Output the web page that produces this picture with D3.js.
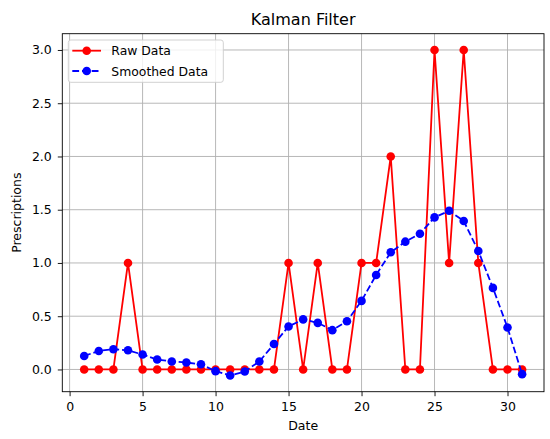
<!DOCTYPE html>
<html><head><meta charset="utf-8">
<script src="https://cdn.jsdelivr.net/npm/d3@7"></script>
<style>body{margin:0;background:#fff}svg{display:block;font-family:"DejaVu Sans",sans-serif}</style>
</head><body><svg id="c" width="550" height="439"></svg>
<script>
const dates = d3.range(1, 32);
const rawData = [0,0,0,1,0,0,0,0,0,0,0,0,0,0,1,0,1,0,0,1,1,2,0,0,3,1,3,1,0,0,0];
const smoothedData = [0.127,0.174,0.19,0.18,0.14,0.093,0.075,0.065,0.049,-0.016,-0.056,-0.019,0.075,0.239,0.404,0.47,0.4375,0.369,0.453,0.644,0.8875,1.1,1.2,1.275,1.428,1.49,1.394,1.1125,0.766,0.394,-0.044];
const xTicks = [0,5,10,15,20,25,30];
const yTicks = [0,0.5,1.0,1.5,2.0,2.5,3.0];
const seriesNames = ["Raw Data","Smoothed Data"];
const colors = ["#ff0000","#0000ff"];

const FS = 12.5;
const svg = d3.select("#c");
const L=62.3,R=544,T=33.7,B=391.7;
const x = d3.scaleLinear().domain([-0.5,32.5]).range([L,R]);
const allY = rawData.concat(smoothedData);
const ymin = d3.min(allY), ymax = d3.max(allY), m=(ymax-ymin)*0.05;
const y = d3.scaleLinear().domain([ymin-m, ymax+m]).range([B,T]);

// grid
const g = svg.append("g");
g.selectAll(".gx").data(xTicks).join("line").attr("x1",d=>x(d)).attr("x2",d=>x(d)).attr("y1",T).attr("y2",B).attr("stroke","#b0b0b0").attr("stroke-width",0.9);
g.selectAll(".gy").data(yTicks).join("line").attr("y1",d=>y(d)).attr("y2",d=>y(d)).attr("x1",L).attr("x2",R).attr("stroke","#b0b0b0").attr("stroke-width",0.9);

// axes
const xa = svg.append("g").attr("transform",`translate(0,${B})`).call(d3.axisBottom(x).tickValues(xTicks).tickFormat(d3.format("d")).tickSize(4.5).tickPadding(6));
const ya = svg.append("g").attr("transform",`translate(${L},0)`).call(d3.axisLeft(y).tickValues(yTicks).tickFormat(d3.format(".1f")).tickSize(4.5).tickPadding(6));
[xa,ya].forEach(a=>{a.select(".domain").remove();a.selectAll("text").attr("font-size",FS).attr("fill","#000").attr("font-family","DejaVu Sans");a.selectAll("line").attr("stroke","#000").attr("stroke-width",0.9);});

// lines
const line = d3.line().x((d,i)=>x(dates[i])).y(d=>y(d));
[rawData, smoothedData].forEach((s,k)=>{
  svg.append("path").attr("d",line(s)).attr("fill","none").attr("stroke",colors[k]).attr("stroke-width",1.8)
    .attr("stroke-dasharray", k===1 ? "6.8,2.9" : null);
  svg.append("g").selectAll("circle").data(s).join("circle").attr("cx",(d,i)=>x(dates[i])).attr("cy",d=>y(d)).attr("r",4.3).attr("fill",colors[k]);
});

// frame
svg.append("rect").attr("x",L).attr("y",T).attr("width",R-L).attr("height",B-T).attr("fill","none").attr("stroke","#000").attr("stroke-width",0.9);

// legend
const lg = svg.append("g");
lg.append("rect").attr("x",68.3).attr("y",40).attr("width",155).attr("height",42.3).attr("rx",2.5).attr("fill","#fff").attr("fill-opacity",0.8).attr("stroke","#cccccc").attr("stroke-width",0.9);
seriesNames.forEach((n,k)=>{
  const yy = 50.7 + k*20.3;
  lg.append("line").attr("x1",72.3).attr("x2",101).attr("y1",yy).attr("y2",yy).attr("stroke",colors[k]).attr("stroke-width",1.8).attr("stroke-dasharray",k===1?"6.8,2.9":null);
  lg.append("circle").attr("cx",86.7).attr("cy",yy).attr("r",4.3).attr("fill",colors[k]);
  lg.append("text").attr("x",111.3).attr("y",yy+4.5).attr("font-size",12.4).text(n);
});

// title & labels
svg.append("text").attr("x",(L+R)/2).attr("y",25).attr("text-anchor","middle").attr("font-size",16).text("Kalman Filter");
svg.append("text").attr("x",(L+R)/2).attr("y",430).attr("text-anchor","middle").attr("font-size",FS).text("Date");
svg.append("text").attr("transform",`translate(21,${(T+B)/2}) rotate(-90)`).attr("text-anchor","middle").attr("font-size",FS).text("Prescriptions");
</script></body></html>
